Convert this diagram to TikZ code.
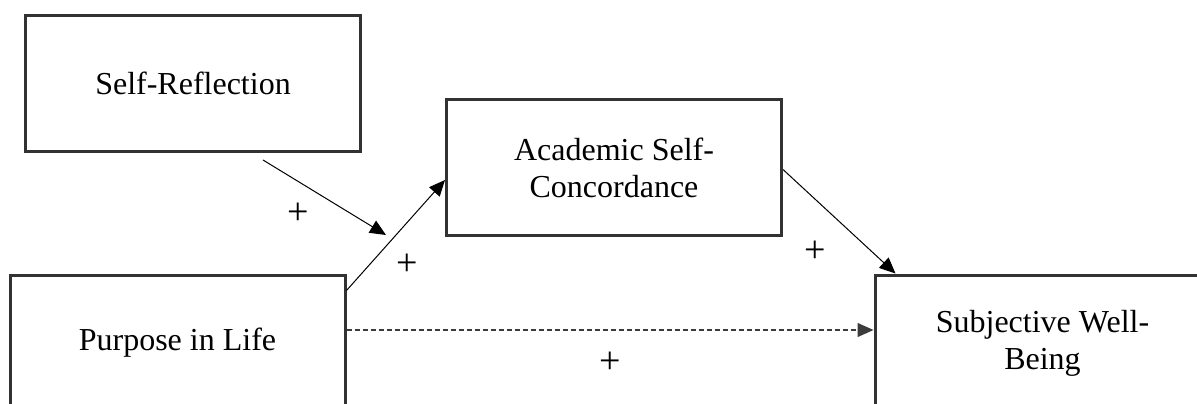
\documentclass[tikz,border=0pt]{standalone}
\usepackage{fontspec}
\setmainfont{Liberation Serif}
\usepackage{xcolor}
\usetikzlibrary{arrows.meta,positioning,calc}
\definecolor{boxline}{RGB}{50,50,50}
\definecolor{dashline}{RGB}{60,60,60}
\tikzset{
  varbox/.style={
    rectangle,
    draw=boxline,
    line width=1.5pt,
    minimum width=167.5pt,
    minimum height=68pt,
    inner sep=0pt,
    align=center,
    font=\fontsize{16}{18.5}\selectfont,
    fill=white
  },
  flow/.style={-{Triangle[length=8pt,width=7pt]}, line width=0.5pt, black},
  directflow/.style={-{Triangle[length=8pt,width=7pt]}, line width=0.6pt, dashline,
    dash pattern=on 2.5pt off 1.5pt},
  sign/.style={font=\fontsize{19}{19}\selectfont, text=black, inner sep=0pt}
}

\begin{document}
\begin{tikzpicture}[x=0.5pt,y=-0.5pt]
\useasboundingbox (0,0) rectangle (1197,403);
\clip (0,0) rectangle (1197,403);
\node[varbox] (refl) at (193,83.5) {Self-Reflection};
\node[varbox] (conc) at (614,167.5) {Academic Self-\\Concordance};
\node[varbox] (purp) at (177.5,343) {Purpose in Life};
\node[varbox] (well) at (1042.5,343) {Subjective Well-\\Being};
\coordinate (modpt) at (386,235);
\draw[flow] ([yshift=-8.5pt]purp.north east) -- node[sign, midway, xshift=5.75pt, yshift=-15pt]{+} ([yshift=-6.25pt]conc.west);
\draw[flow] ([xshift=35pt,yshift=-3.5pt]refl.south) -- node[sign, midway, xshift=-13pt, yshift=-8pt]{+} (modpt);
\draw[flow] ([yshift=-1pt]conc.east) -- node[sign, midway, xshift=-12.25pt, yshift=-15pt]{+} ([xshift=11pt]well.north west);
\draw[directflow] ([yshift=6.5pt]purp.east) -- node[sign, midway, yshift=-16.5pt]{+} ([yshift=6.5pt]well.west);
\end{tikzpicture}
\end{document}
